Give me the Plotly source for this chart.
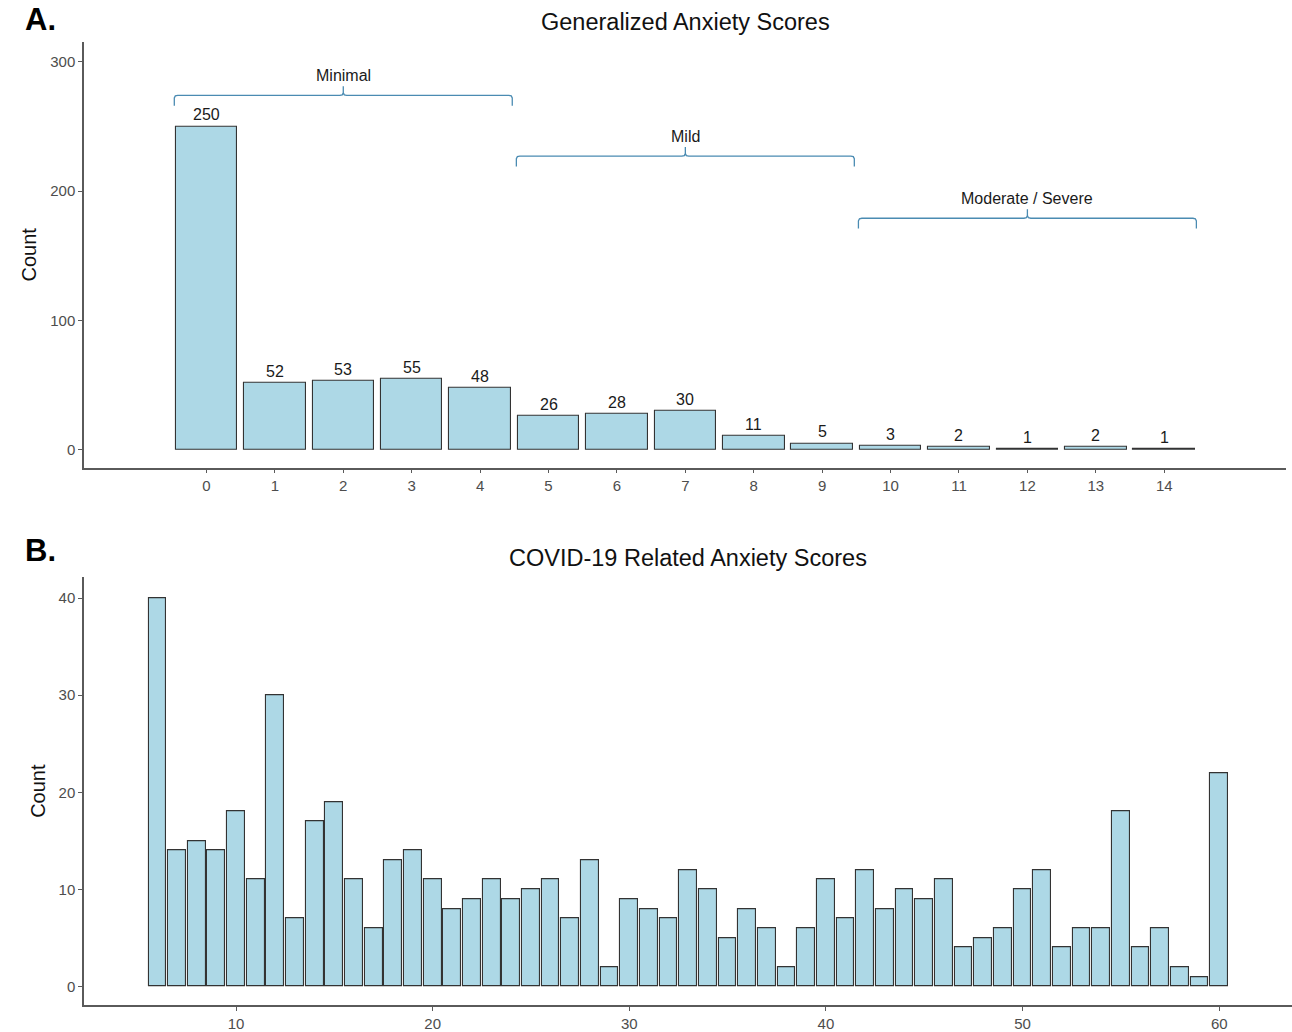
import plotly.graph_objects as go

# ---- Data ----
gad_scores = list(range(0, 15))
gad_counts = [250, 52, 53, 55, 48, 26, 28, 30, 11, 5, 3, 2, 1, 2, 1]

gad_groups = ["Minimal", "Mild", "Moderate / Severe"]
gad_group_start = [0, 5, 10]
gad_group_end = [4, 9, 14]
gad_group_level = [274, 227, 179]

covid_scores = list(range(6, 61))
covid_counts = [40, 14, 15, 14, 18, 11, 30, 7, 17, 19, 11, 6, 13, 14, 11, 8, 9, 11, 9, 10,
                11, 7, 13, 2, 9, 8, 7, 12, 10, 5, 8, 6, 2, 6, 11, 7, 12, 8, 10, 9,
                11, 4, 5, 6, 10, 12, 4, 6, 6, 18, 4, 6, 2, 1, 22]

# ---- Style ----
FONT = "Liberation Sans, Arial, sans-serif"
FILL = "#ADD8E6"
EDGE = "#333333"
AXIS = "#5a5a5a"
TICKF = "#4D4D4D"
BRACKET = "#4A8BB2"

W, H = 1292, 1032
def px_x(p):
    return p / W
def px_y(p):
    return 1 - p / H

fig = go.Figure()

fig.add_trace(go.Bar(x=gad_scores, y=gad_counts, width=0.9,
                     marker=dict(color=FILL, line=dict(color=EDGE, width=1.1)),
                     xaxis="x", yaxis="y", showlegend=False))
fig.add_trace(go.Bar(x=covid_scores, y=covid_counts, width=0.9,
                     marker=dict(color=FILL, line=dict(color=EDGE, width=1.1)),
                     xaxis="x2", yaxis="y2", showlegend=False))

# value labels
for xv, yv in zip(gad_scores, gad_counts):
    fig.add_annotation(x=xv, y=yv, text=str(yv), showarrow=False, xref="x", yref="y",
                       yanchor="bottom", yshift=1,
                       font=dict(family=FONT, size=16, color="#1a1a1a"))

# brackets
pad = 0.47
drop = 8
notch = 7
for name, s, e, lvl in zip(gad_groups, gad_group_start, gad_group_end, gad_group_level):
    x0, x1 = s - pad, e + pad
    xm = (s + e) / 2
    r = 0.05
    xs = [x0, x0, x0 + r * 0.3, x0 + r, xm - r, xm - r * 0.3, xm, xm, xm, xm + r * 0.3, xm + r,
          x1 - r, x1 - r * 0.3, x1, x1]
    ys = [lvl - drop, lvl - 2, lvl - 0.4, lvl, lvl, lvl + 0.4, lvl + 2, lvl + notch, lvl + 2,
          lvl + 0.4, lvl, lvl, lvl - 0.4, lvl - 2, lvl - drop]
    fig.add_trace(go.Scatter(x=xs, y=ys, mode="lines", line=dict(color=BRACKET, width=1.3),
                             xaxis="x", yaxis="y", showlegend=False, hoverinfo="skip"))
    fig.add_annotation(x=xm, y=lvl + notch, text=name, showarrow=False, xref="x", yref="y",
                       yanchor="bottom", yshift=0,
                       font=dict(family=FONT, size=16, color="#1a1a1a"))

axis_common = dict(showline=True, linecolor=AXIS, linewidth=1.5, ticks="outside",
                   tickcolor=AXIS, ticklen=4, tickwidth=1, showgrid=False, zeroline=False,
                   tickfont=dict(family=FONT, size=15, color=TICKF))

fig.update_layout(
    width=W, height=H, margin=dict(l=0, r=0, t=0, b=0),
    plot_bgcolor="white", paper_bgcolor="white", bargap=0,
    xaxis=dict(domain=[px_x(84), px_x(1286)], range=[-1.79, 15.78], anchor="y",
               tickvals=gad_scores, ticktext=[str(v) for v in gad_scores], **axis_common),
    yaxis=dict(domain=[px_y(470), px_y(42)], range=[-13.85, 315.4], anchor="x",
               tickvals=[0, 100, 200, 300],
               title=dict(text="Count", font=dict(family=FONT, size=20, color="#111"), standoff=8),
               **axis_common),
    xaxis2=dict(domain=[px_x(84), 1.0], range=[2.27, 63.7], anchor="y2",
                tickvals=[10, 20, 30, 40, 50, 60], **axis_common),
    yaxis2=dict(domain=[px_y(1010), px_y(580)], range=[-1.92, 42.15], anchor="x2",
                tickvals=[0, 10, 20, 30, 40],
                title=dict(text="Count", font=dict(family=FONT, size=20, color="#111"), standoff=8),
                **axis_common),
)

# titles and panel labels
fig.add_annotation(x=px_x(685), y=px_y(22), xref="paper", yref="paper", showarrow=False,
                   text="Generalized Anxiety Scores", xanchor="center", yanchor="middle",
                   font=dict(family=FONT, size=23.5, color="#111"))
fig.add_annotation(x=px_x(688), y=px_y(561), xref="paper", yref="paper", showarrow=False,
                   text="COVID-19 Related Anxiety Scores", xanchor="center", yanchor="middle",
                   font=dict(family=FONT, size=23.5, color="#111"))
fig.add_annotation(x=px_x(23), y=px_y(20), xref="paper", yref="paper", showarrow=False,
                   text="<b>A.</b>", xanchor="left", yanchor="middle",
                   font=dict(family=FONT, size=31, color="#000"))
fig.add_annotation(x=px_x(23), y=px_y(553), xref="paper", yref="paper", showarrow=False,
                   text="<b>B.</b>", xanchor="left", yanchor="middle",
                   font=dict(family=FONT, size=31, color="#000"))

fig.write_html("out.html", config={"displayModeBar": False},
               post_script="document.body.style.margin='0';document.body.style.overflow='hidden';")
